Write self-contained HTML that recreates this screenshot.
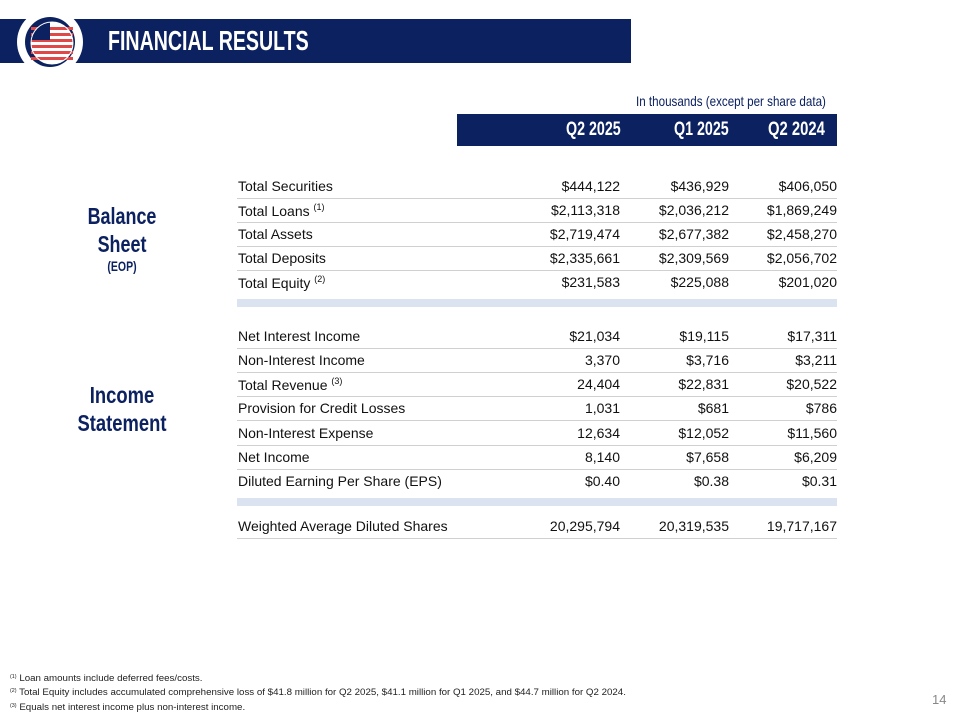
<!DOCTYPE html>
<html><head><meta charset="utf-8">
<style>
body{margin:0;width:960px;height:720px;background:#fff;position:relative;overflow:hidden;font-family:"Liberation Sans",sans-serif;}
.abs{position:absolute;}
.cond{font-family:"Liberation Sans",sans-serif;font-weight:bold;transform-origin:left center;white-space:nowrap;}
.row{position:absolute;left:237px;width:600px;height:24px;border-bottom:1px solid #d0d0d0;font-size:14px;color:#111;}
.row span{position:absolute;top:4px;white-space:nowrap;}
.l{left:1px;}
.v1{right:217px;}.v2{right:108px;}.v3{right:0;}
sup{font-size:9px;vertical-align:6px;}
.band{position:absolute;left:237px;width:600px;height:8px;background:#dbe3f1;}
.fn{position:absolute;left:10px;font-size:9px;color:#222;white-space:nowrap;transform:scaleX(1.08);transform-origin:left center;}
.fn sup{font-size:5px;vertical-align:3px;}
</style></head><body>
<div class="abs" style="left:0;top:19px;width:631px;height:44px;background:#0b2160;"></div>
<div class="abs" style="left:17px;top:9px;width:66px;height:66px;border-radius:50%;background:#fff;">
<svg width="66" height="66" viewBox="0 0 66 66">
<circle cx="33" cy="33" r="25" fill="#0b2160"/>
<circle cx="35" cy="34" r="21" fill="#fff"/>
<g fill="#e04848"><rect x="14" y="18" width="42" height="3"/><rect x="14" y="24" width="42" height="3"/><rect x="14" y="30" width="42" height="3"/><rect x="14" y="36" width="42" height="3"/><rect x="14" y="42" width="42" height="3"/><rect x="14" y="48" width="42" height="3"/></g>
<path d="M14 33 A21 21 0 0 1 33 13 L33 31 L14 31Z" fill="#0b2160"/>
<circle cx="35" cy="34" r="21" fill="none" stroke="#fff" stroke-width="1"/>
</svg></div>
<div class="abs cond" style="left:108px;top:25px;font-size:28px;color:#fff;transform:scaleX(0.7);">FINANCIAL RESULTS</div>

<div class="abs cond" style="left:636px;top:93px;font-size:14px;font-weight:normal;color:#0b2160;transform:scaleX(0.83);">In thousands (except per share data)</div>
<div class="abs" style="left:457px;top:114px;width:380px;height:32px;background:#0b2160;"></div>
<div class="abs cond" style="left:566px;top:119px;font-size:19px;color:#fff;transform:scaleX(0.75);">Q2 2025</div>
<div class="abs cond" style="left:674px;top:119px;font-size:19px;color:#fff;transform:scaleX(0.75);">Q1 2025</div>
<div class="abs cond" style="left:768px;top:119px;font-size:19px;color:#fff;transform:scaleX(0.78);">Q2 2024</div>

<div class="abs" style="left:62px;top:202px;width:120px;text-align:center;color:#0b2160;font-weight:bold;">
<div style="font-size:23px;line-height:28px;transform:scaleX(0.78);">Balance<br>Sheet</div>
<div style="font-size:14px;transform:scaleX(0.75);">(EOP)</div></div>
<div class="abs" style="left:52px;top:381px;width:140px;text-align:center;color:#0b2160;font-weight:bold;">
<div style="font-size:23px;line-height:28px;transform:scaleX(0.8);">Income<br>Statement</div></div>

<div class="row" style="top:174px"><span class="l">Total Securities</span><span class="v1">$444,122</span><span class="v2">$436,929</span><span class="v3">$406,050</span></div>
<div class="row" style="top:198px"><span class="l">Total Loans <sup>(1)</sup></span><span class="v1">$2,113,318</span><span class="v2">$2,036,212</span><span class="v3">$1,869,249</span></div>
<div class="row" style="top:222px"><span class="l">Total Assets</span><span class="v1">$2,719,474</span><span class="v2">$2,677,382</span><span class="v3">$2,458,270</span></div>
<div class="row" style="top:246px"><span class="l">Total Deposits</span><span class="v1">$2,335,661</span><span class="v2">$2,309,569</span><span class="v3">$2,056,702</span></div>
<div class="row" style="top:270px;border-bottom:none"><span class="l">Total Equity <sup>(2)</sup></span><span class="v1">$231,583</span><span class="v2">$225,088</span><span class="v3">$201,020</span></div>
<div class="band" style="top:299px"></div>

<div class="row" style="top:324px"><span class="l">Net Interest Income</span><span class="v1">$21,034</span><span class="v2">$19,115</span><span class="v3">$17,311</span></div>
<div class="row" style="top:348px"><span class="l">Non-Interest Income</span><span class="v1">3,370</span><span class="v2">$3,716</span><span class="v3">$3,211</span></div>
<div class="row" style="top:372px"><span class="l">Total Revenue <sup>(3)</sup></span><span class="v1">24,404</span><span class="v2">$22,831</span><span class="v3">$20,522</span></div>
<div class="row" style="top:396px"><span class="l">Provision for Credit Losses</span><span class="v1">1,031</span><span class="v2">$681</span><span class="v3">$786</span></div>
<div class="row" style="top:421px"><span class="l">Non-Interest Expense</span><span class="v1">12,634</span><span class="v2">$12,052</span><span class="v3">$11,560</span></div>
<div class="row" style="top:445px"><span class="l">Net Income</span><span class="v1">8,140</span><span class="v2">$7,658</span><span class="v3">$6,209</span></div>
<div class="row" style="top:469px;border-bottom:none"><span class="l">Diluted Earning Per Share (EPS)</span><span class="v1">$0.40</span><span class="v2">$0.38</span><span class="v3">$0.31</span></div>
<div class="band" style="top:498px"></div>
<div class="row" style="top:514px"><span class="l">Weighted Average Diluted Shares</span><span class="v1">20,295,794</span><span class="v2">20,319,535</span><span class="v3">19,717,167</span></div>

<div class="fn" style="top:673px"><sup>(1)</sup> Loan amounts include deferred fees/costs.</div>
<div class="fn" style="top:687px"><sup>(2)</sup> Total Equity includes accumulated comprehensive loss of $41.8 million for Q2 2025, $41.1 million for Q1 2025, and $44.7 million for Q2 2024.</div>
<div class="fn" style="top:702px"><sup>(3)</sup> Equals net interest income plus non-interest income.</div>
<div class="abs" style="left:932px;top:692px;font-size:13px;color:#888;">14</div>
</body></html>
